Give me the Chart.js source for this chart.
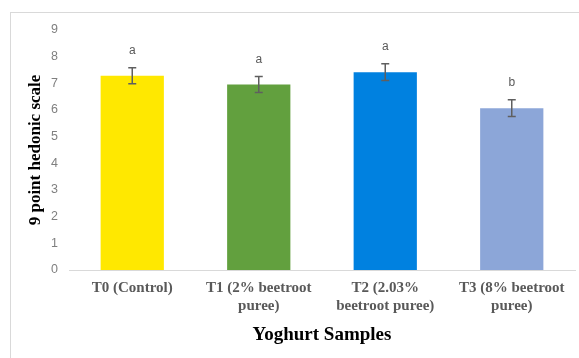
<!DOCTYPE html>
<html>
<head>
<meta charset="utf-8">
<script src="https://cdn.jsdelivr.net/npm/chart.js@4/dist/chart.umd.min.js"></script>
<style>
  html, body { margin: 0; padding: 0; background: #ffffff; }
  #wrap { position: relative; width: 579px; height: 358px; overflow: hidden; }
  #frame { position: absolute; left: 10px; top: 12px; width: 600px; height: 400px; border: 1px solid #d9d9d9; box-sizing: border-box; }
  canvas { position: absolute; left: 0; top: 0; }
</style>
</head>
<body>
<div id="wrap">
  <div id="frame"></div>
  <canvas id="c" width="579" height="358"></canvas>
</div>
<script>
const categories = [
  ["T0 (Control)"],
  ["T1 (2% beetroot", "puree)"],
  ["T2 (2.03%", "beetroot puree)"],
  ["T3 (8% beetroot", "puree)"]
];
const meanScores = [7.28, 6.96, 7.42, 6.07];
const errorValues = [0.30, 0.30, 0.31, 0.31];
const significanceLetters = ["a", "a", "a", "b"];
const barColors = ["#ffe800", "#62a03e", "#0081e0", "#8ca6d8"];
const yTicks = [0, 1, 2, 3, 4, 5, 6, 7, 8, 9];

const errorBarPlugin = {
  id: 'errorBars',
  afterDatasetsDraw(chart) {
    const ctx = chart.ctx;
    const meta = chart.getDatasetMeta(0);
    const y = chart.scales.y;
    ctx.save();
    meta.data.forEach((bar, i) => {
      const v = meanScores[i], e = errorValues[i];
      const yTop = y.getPixelForValue(v + e);
      const yBot = y.getPixelForValue(v - e);
      const x = bar.x;
      ctx.strokeStyle = '#5f5f5f';
      ctx.lineWidth = 1.5;
      ctx.beginPath();
      ctx.moveTo(x, yTop); ctx.lineTo(x, yBot);
      ctx.moveTo(x - 4, yTop); ctx.lineTo(x + 4, yTop);
      ctx.moveTo(x - 4, yBot); ctx.lineTo(x + 4, yBot);
      ctx.stroke();
      ctx.fillStyle = '#595959';
      ctx.font = '12px "Liberation Sans", Arial, sans-serif';
      ctx.textAlign = 'center';
      ctx.textBaseline = 'middle';
      ctx.fillText(significanceLetters[i], x, yTop - 17);
    });
    ctx.restore();
  }
};

new Chart(document.getElementById('c'), {
  type: 'bar',
  data: {
    labels: categories,
    datasets: [{
      data: meanScores,
      backgroundColor: barColors,
      borderWidth: 0,
      categoryPercentage: 1.0,
      barPercentage: 0.5
    }]
  },
  options: {
    responsive: false,
    animation: false,
    layout: { padding: { top: 30, right: 4, left: 0, bottom: 0 } },
    plugins: { legend: { display: false }, tooltip: { enabled: false } },
    scales: {
      x: {
        grid: { display: false, drawTicks: false },
        border: { display: true, color: '#d9d9d9', width: 1 },
        ticks: {
          color: '#595959',
          padding: 9,
          maxRotation: 0,
          font: { family: '"Liberation Serif", "Times New Roman", serif', size: 15, weight: 'bold', lineHeight: 1.2 }
        },
        title: {
          display: true,
          text: 'Yoghurt Samples',
          color: '#000000',
          font: { family: '"Liberation Serif", "Times New Roman", serif', size: 19, weight: 'bold', lineHeight: 1.2 },
          padding: { top: 0, bottom: 12 }
        },
        afterFit(scale) { scale.height = 88; }
      },
      y: {
        min: 0, max: 9,
        afterBuildTicks(scale) { scale.ticks = yTicks.map(v => ({ value: v })); },
        grid: { display: false, drawTicks: false },
        border: { display: false },
        ticks: {
          color: '#7f7f7f',
          padding: 11,
          font: { family: '"Liberation Sans", Arial, sans-serif', size: 12.5 }
        },
        title: {
          display: true,
          text: '9 point hedonic scale',
          color: '#000000',
          font: { family: '"Liberation Serif", "Times New Roman", serif', size: 17, weight: 'bold', lineHeight: 1.2 },
          padding: { top: 25, bottom: 0 }
        },
        afterFit(scale) { scale.width = 69; }
      }
    }
  },
  plugins: [errorBarPlugin]
});
</script>
</body>
</html>
